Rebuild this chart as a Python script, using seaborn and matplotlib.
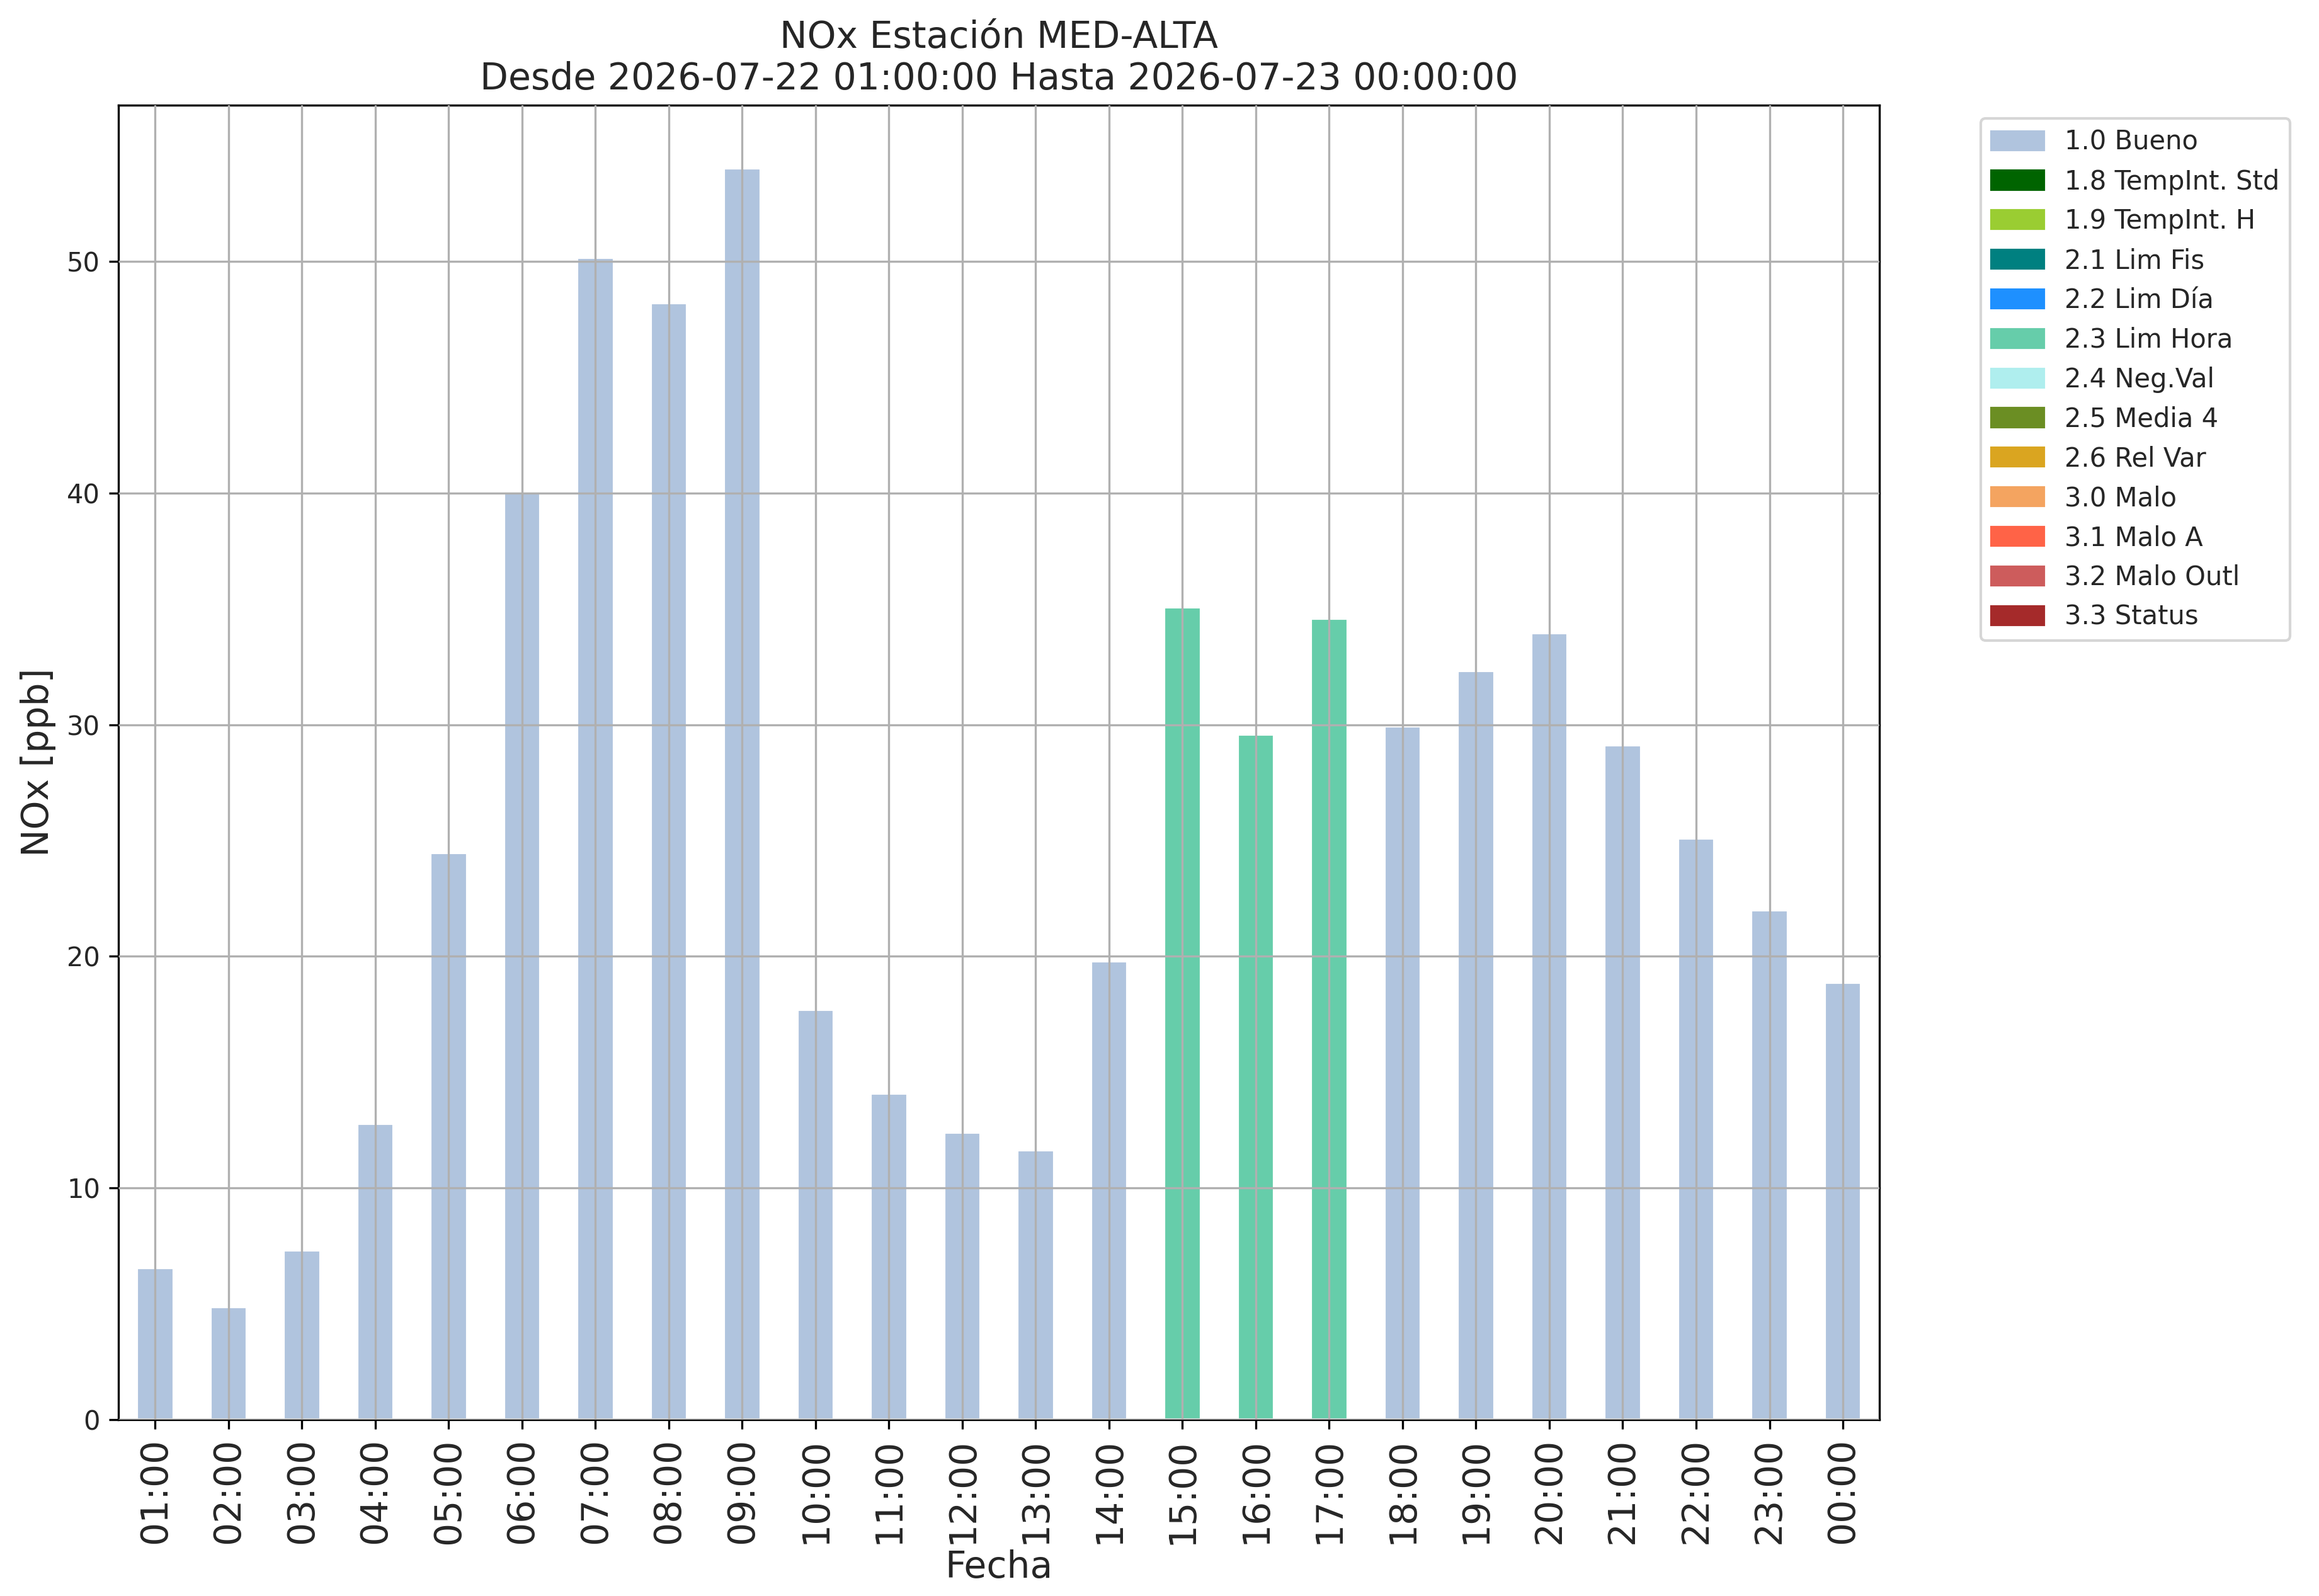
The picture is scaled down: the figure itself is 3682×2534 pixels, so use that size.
import matplotlib
matplotlib.use("Agg")
import matplotlib.pyplot as plt
import matplotlib.patches as mpatches
import seaborn as sns
import pandas as pd

# Data
horas = ["01:00", "02:00", "03:00", "04:00", "05:00", "06:00", "07:00", "08:00",
         "09:00", "10:00", "11:00", "12:00", "13:00", "14:00", "15:00", "16:00",
         "17:00", "18:00", "19:00", "20:00", "21:00", "22:00", "23:00", "00:00"]
nox = [6.55, 4.87, 7.32, 12.77, 24.48, 40.07, 50.16, 48.2,
       54.04, 17.7, 14.09, 12.41, 11.63, 19.8, 35.08, 29.59,
       34.6, 29.93, 32.34, 33.97, 29.12, 25.11, 22.0, 18.88]
flags = ["1.0 Bueno"] * 14 + ["2.3 Lim Hora"] * 3 + ["1.0 Bueno"] * 7

# Flag categories and their colours
categorias = ["1.0 Bueno", "1.8 TempInt. Std", "1.9 TempInt. H", "2.1 Lim Fis",
              "2.2 Lim Día", "2.3 Lim Hora", "2.4 Neg.Val", "2.5 Media 4",
              "2.6 Rel Var", "3.0 Malo", "3.1 Malo A", "3.2 Malo Outl", "3.3 Status"]
colores = ["lightsteelblue", "darkgreen", "yellowgreen", "teal",
           "dodgerblue", "mediumaquamarine", "paleturquoise", "olivedrab",
           "goldenrod", "sandybrown", "tomato", "indianred", "brown"]
paleta = dict(zip(categorias, colores))

df = pd.DataFrame({"Fecha": horas, "NOx": nox, "flag": flags})

sns.set_style("ticks")
plt.rcParams['font.family'] = ['DejaVu Sans']

fig = plt.figure(figsize=(3682 / 300, 2534 / 300), dpi=300)
ax = fig.add_axes([0.0511, 0.1105, 0.7594, 0.8235])

sns.barplot(data=df, x="Fecha", y="NOx", hue="flag", order=horas,
            hue_order=categorias, palette=paleta, dodge=False, width=0.5,
            saturation=1, legend=False, ax=ax)

ax.set_xlim(-0.5, len(horas) - 0.5)
ax.set_ylim(0, max(nox) * 1.05)

# grid on top of the bars, like the pandas default
ax.set_axisbelow(False)
ax.grid(True, color="#b0b0b0", linewidth=0.8)

for sp in ax.spines.values():
    sp.set_visible(True)
    sp.set_color("black")
    sp.set_linewidth(0.8)

ax.tick_params(axis="x", labelsize=14, rotation=90, length=3.5, width=0.8, color="black")
ax.tick_params(axis="y", labelsize=10, length=3.5, width=0.8, color="black")

ax.set_xlabel("Fecha", fontsize=14, labelpad=2)
ax.set_ylabel("NOx [ppb]", fontsize=14)
ax.set_title("NOx Estación MED-ALTA\nDesde 2026-07-22 01:00:00 Hasta 2026-07-23 00:00:00",
             fontsize=14)

# Legend with every flag category
handles = [mpatches.Patch(color=c, label=l) for l, c in zip(categorias, colores)]
ax.legend(handles=handles, bbox_to_anchor=(1.05, 1), loc="upper left", fontsize=10)

fig.savefig("out.png", dpi=300)
